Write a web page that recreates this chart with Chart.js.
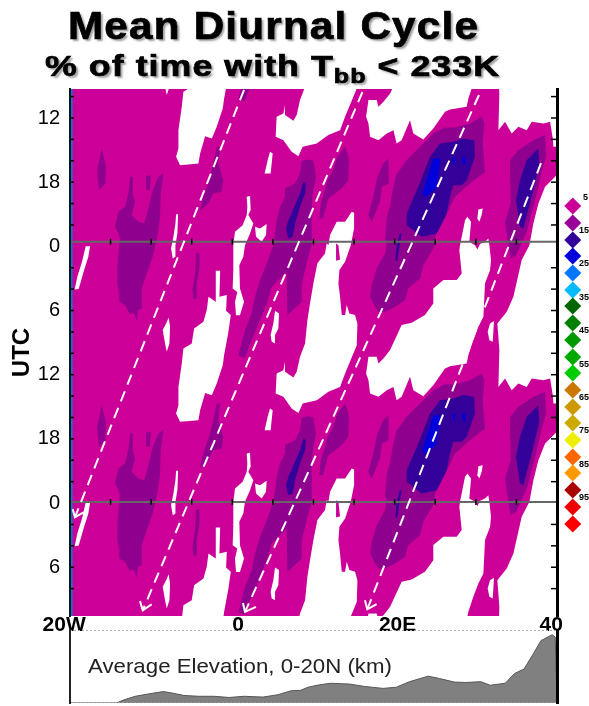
<!DOCTYPE html>
<html>
<head>
<meta charset="utf-8">
<title>Mean Diurnal Cycle</title>
<script src="https://cdn.jsdelivr.net/npm/chart.js@4/dist/chart.umd.min.js"></script>
<style>
  html, body { margin: 0; padding: 0; background: #fff; }
  #page { position: relative; width: 589px; height: 706px; overflow: hidden; font-family: "Liberation Sans", Arial, sans-serif; }
  canvas { position: absolute; left: 0; }
  #hovmoller { top: 0; }
  #elevation { top: 626px; }
  .head { position: absolute; font-weight: bold; color: #000; white-space: nowrap; transform-origin: left top; -webkit-text-stroke: 0.7px #000; text-shadow: 2px 2px 2px #999; }
  #head1 { left: 68px; top: 5px; font-size: 38px; letter-spacing: 1.1px; transform: scaleX(1.11); }
  #head2 { left: 45px; top: 49px; font-size: 30px; letter-spacing: 0.9px; transform: scaleX(1.19); }
  #head2 sub { font-size: 21px; line-height: 0; vertical-align: -7px; }
  #elevLabel { position: absolute; left: 88px; top: 654px; font-size: 21px; color: #222; white-space: nowrap; transform-origin: left top; transform: scaleX(1.06); }
  .diamond { position: absolute; width: 11.5px; height: 11.5px; transform: rotate(45deg); }
  .lvl { position: absolute; font: bold 9px "Liberation Sans", Arial, sans-serif; color: #000; }
</style>
</head>
<body>
<div id="page">
  <canvas id="hovmoller" width="589" height="640"></canvas>
  <canvas id="elevation" width="589" height="80"></canvas>
  <div class="head" id="head1">Mean Diurnal Cycle</div>
  <div class="head" id="head2">% of time with T<sub>bb</sub> &lt; 233K</div>
  <div id="elevLabel">Average Elevation, 0-20N (km)</div>
</div>
<script>
// ---- axes: hours counted from the first 00 UTC line ----
const lonTicks = [-20, 0, 20, 40];
// nbsp padding nudges the labels off their ticks the way the original sits
const lonLabels = ["20W\u00a0\u00a0", "\u00a0\u00a00", "\u00a020E", "40\u00a0\u00a0"];
const hourTicks = [-12, -6, 0, 6, 12, 18, 24, 30];
const hourLabels = ["12", "18", "0", "6", "12", "18", "0", "6"];
const minorHours = [-14, -12, -10, -8, -6, -4, -2, 2, 4, 6, 8, 10, 12, 14, 16, 18, 20, 22, 26, 28, 30, 32];
const minorLons = [-15, -10, -5, 0, 5, 10, 15, 20, 25, 30, 35];
const zeroLines = [-0.43, 23.9];
const cycleShifts = [-48, -24, 0, 24];   // the mean day is plotted twice

// ---- contour outlines as [lon, hour] ----
const noCloud = [
  [[-18.07,23.98],[-17.53,23.98],[-17.74,24.98],[-18.27,26.23],[-18.93,27.98],[-19.42,28.04],[-19.1,26.85],[-18.52,25.45]],
  [[-6.93,20.99],[-6.68,20.99],[-6.77,22.8],[-7.01,23.89],[-7.01,24.98],[-7.34,25.14],[-7.55,24.2],[-7.26,23.1],[-7.01,21.86]],
  [[-7.84,6.65],[-7.67,7.52],[-7.75,9.08],[-8.08,9.86],[-8.29,9.08],[-8.58,7.83],[-8.16,7.21]],
  [[-2.04,2.28],[-1.5,2.28],[-1.59,4.71],[-0.68,4.56],[-0.77,6.02],[-0.19,6.43],[-0.48,7.99],[-1.01,10.17],[-1.18,11.11],[-1.92,12.82],[-2.53,13.92],[-3.35,13.7],[-3.97,15.32],[-4.18,16.26],[-6.44,16.41],[-6.93,15.63],[-6.64,14.85],[-6.64,13.14],[-6.23,10.95],[-6.03,9.55],[-5,9.08],[-4.71,7.68],[-3.56,7.05],[-3.15,5.96],[-2.94,4.71],[-2.04,5.18]],
  [[1.77,19.36],[2.18,19.3],[2.26,20.61],[1.97,21.08],[2.59,21.86],[2.18,22.8],[1.56,23.89],[1.35,24.98],[0.86,25.76],[0.94,27.94],[1.44,29.19],[0.94,30.44],[0.45,30.44],[0.33,29.19],[0.61,28.26],[0.04,27.94],[0.12,26.23],[0.12,23.89],[0.33,22.64],[1.27,22.02],[1.77,21.08],[1.85,20.3]],
  [[2.79,22.17],[3.41,22.33],[4.23,21.92],[4.15,22.95],[3.61,23.58],[2.92,23.11]],
  [[5.26,6.02],[5.75,6.27],[5.67,7.68],[5.26,8.3],[5.26,9.08],[4.85,8.92],[4.72,8.3],[5.05,7.21]],
  [[4.64,15.16],[4.97,15.32],[4.72,17.19],[3.98,17.19],[4.35,15.94]],
  [[11.84,23.89],[12.04,22.95],[12.86,21.7],[13.89,21.7],[14.71,20.77],[15,20.86],[15,22.33],[14.59,23.89],[13.89,25.44],[13.19,26.22],[13.07,27.46],[13.27,28.71],[13.48,30.43],[13.89,30.43],[14.1,29.49],[14.42,30.27],[15.12,30.43],[15.41,31.21],[15.33,33.24],[13.89,35.89],[13.27,37.14],[11.83,37.6],[10.4,38.38],[8.67,38.7],[8.14,39.57],[7.31,39.16],[6.29,38.07],[5.34,37.76],[5.46,35.89],[6.29,35.58],[6.49,34.8],[6.49,35.73],[7.52,36.26],[7.93,35.73],[8.34,34.33],[8.96,33.08],[9.25,30.9],[9.57,29.34],[9.99,27.46],[10.48,25.59],[11.42,24.66],[11.63,23.72]],
  [[28.05,23.89],[28.67,21.55],[28.96,21.24],[29.41,21.7],[29.2,23.58],[29.9,23.89],[30.19,24.29],[30.52,23.79],[31.13,23.58],[31.54,23.26],[31.67,23.89],[31.87,25.29],[31.75,26.23],[31.13,27.46],[30.93,30.58],[30.31,31.52],[29.69,32.77],[29.08,34.17],[28.87,34.95],[26.82,35.2],[26.2,35.42],[24.76,36.98],[23.53,38.01],[22.3,37.45],[21.89,36.2],[20.86,38.07],[20.24,38.38],[19.85,37.14],[19.03,37.45],[18,38.07],[16.97,37.76],[16.77,36.51],[16.48,35.89],[16.77,34.33],[17.79,34.33],[18,34.95],[18.62,34.48],[19.44,33.7],[20.86,31.36],[22.09,31.14],[23.73,30.43],[24.76,29.34],[24.76,27.93],[26,27.15],[27.64,27.15],[28.26,26.53],[27.97,24.34]],
  [[40.17,17.18],[39.56,17.65],[38.53,18.43],[37.71,19.99],[37.09,21.86],[36.6,23.89],[35.65,25.28],[34.63,28.71],[33.81,30.12],[32.65,31.21],[32.78,32.46],[32.9,33.7],[32.78,37.14],[33.6,36.36],[34.42,37.45],[35.24,36.82],[36.27,37.14],[36.89,36.36],[38.33,36.51],[39.15,36.36],[39.48,37.92],[39.56,38.7],[40.17,38.7]],
  [[31.75,31.21],[32.24,30.99],[32.08,32.92],[31.67,32.77],[31.46,31.99]],
  [[30.31,20.55],[30.85,20.46],[30.72,21.08],[30.43,21.7],[30.19,21.39]]
];
const cloudInGaps = [
  [[12.78,23.73],[13.07,23.89],[13.27,25.23],[12.78,25.35]]
];
const level10 = [
  [[-8.49,17.18],[-8.82,19.05],[-8.9,21.24],[-9.23,23.11],[-9.81,24.98],[-10.55,26.54],[-11.16,27.94],[-11.16,29.82],[-11.66,29.97],[-11.78,31.06],[-12.07,30.28],[-12.68,30.28],[-13.22,29.5],[-13.92,29.19],[-13.92,28.47],[-14.16,27.48],[-14.16,26.07],[-14,24.36],[-13.84,23.26],[-14.12,22.64],[-14.45,22.17],[-14.04,20.77],[-13.22,20.3],[-12.81,19.05],[-12.6,17.49],[-12.27,17.49],[-12.27,19.05],[-11.99,19.83],[-12.4,21.08],[-11.57,21.7],[-10.88,21.86],[-10.55,21.08],[-10.14,19.83],[-9.81,18.74],[-9.11,17.49]],
  [[-10.63,17.43],[-10.05,17.34],[-10.14,18.74],[-10.63,18.74]],
  [[-4.46,0.59],[-4.05,0.66],[-4.05,1.9],[-4.38,3.46],[-4.38,4.87],[-4.79,4.96],[-4.92,4.09],[-4.59,2.53]],
  [[-16.1,14.85],[-15.56,16.55],[-15.65,18.12],[-16.43,18.75],[-16.67,16.88]],
  [[-1.93,14.69],[-1.52,14.69],[-1.73,16.25],[-1.11,17.81],[-1.32,18.9],[-2.34,19.06],[-2.96,19.99],[-3.98,20.67],[-3.58,19.36],[-2.75,17.5],[-2.34,16.25]],
  [[9.37,15.88],[9.99,16],[10.31,17.49],[9.9,19.05],[9.78,20.3],[9.78,23.89],[9.57,24.36],[8.55,27.48],[8.55,29.19],[6.78,30.44],[6.7,26.38],[4.85,27.79],[4.23,29.35],[3.41,30.91],[2.18,33.09],[1.56,34.43],[0.74,34.18],[1.56,31.84],[2.38,30.28],[2.79,28.72],[3.41,27.16],[4.23,25.6],[5.05,23.89],[5.46,21.55],[5.88,20.3],[6.49,19.36],[6.49,18.58],[7.72,18.12],[8.14,17.49],[8.34,17.19],[8.55,16]],
  [[13.89,14.69],[14.42,15.94],[14.3,17.19],[14.3,17.8],[13.48,18.58],[12.45,19.21],[11.83,19.52],[11.14,21.39],[10.72,21.39],[10.89,19.99],[11.42,18.74],[11.71,17.8],[12.25,17.19],[12.94,15.63]],
  [[19.22,15.78],[19.27,18.12],[18.44,18.43],[18.19,19.83],[17.17,21.7],[16.75,21.08],[17.37,19.36],[17.87,17.49],[18.6,16.25]],
  [[30.72,11.89],[31.05,12.51],[30.85,14.38],[31.13,17.04],[29.28,18.12],[27.43,19.36],[26.82,20.3],[26.2,21.39],[24.97,23.11],[24.97,23.89],[23.53,25.76],[23.12,27.01],[21.68,27.94],[21.27,29.04],[20.04,29.66],[18.82,30.12],[18,30.12],[17.59,29.65],[16.97,28.71],[17.18,27.62],[17.79,26.06],[18.82,24.66],[19.03,23.56],[18.82,23.42],[19.03,21.24],[19.42,20.3],[19.75,18.74],[20.24,17.18],[20.45,17.04],[21.47,15.94],[23.12,14.7],[24.76,13.45],[26.2,12.89],[27.43,12.89],[29.28,12.51]],
  [[38.53,13.6],[38.65,15.63],[38.12,17.04],[37.71,18.43],[37.09,20.3],[36.35,22.48],[35.65,23.73],[34.96,24.82],[34.3,25.14],[34.01,23.89],[33.6,21.7],[34.3,19.99],[34.22,17.18],[34.22,15.94],[35.24,15],[37.09,14.07]]
];
const level15 = [
  [[8.75,17.96],[9.08,18.12],[8.96,19.05],[8.34,20.3],[7.72,21.86],[7.44,23.11],[6.9,23.26],[6.61,22.33],[6.9,21.55],[7.72,20.14],[8.34,19.05]],
  [[28.45,13.91],[29.81,14.07],[29.9,15.62],[28.87,17.81],[28.26,18.28],[27.22,18.28],[26.81,19.36],[26.41,20.93],[25.17,22.8],[23.33,23.11],[21.48,22.02],[21.48,20.93],[22.91,18.43],[24.35,15.62],[25.58,14.38],[27.22,14.22]],
  [[37.69,14.85],[37.82,16.41],[36.88,19.36],[35.85,22.33],[35.44,22.17],[34.95,19.68],[35.44,17.81],[36.26,15.94]],
  [[20.86,22.8],[20.32,25.35],[20.08,25.35],[20.24,23.89],[20.65,22.8]]
];
const level25 = [
  [[24.76,15.78],[25.67,15.78],[25.38,17.34],[25.09,18.59],[23.74,19.43],[23.4,19.06],[23.94,17.81]],
  [[27.22,15.62],[27.5,15.62],[27.4,16.25],[27.15,16.25]],
  [[28.33,15.7],[28.69,15.6],[28.73,16.4],[28.37,16.25]]
];

// ---- dashed tracks with their arrow heads ----
const tracks = [
  [[1.44,-14.62],[-19.38,25.32]],
  [[16.03,-14.43],[-11.04,34.03]],
  [[30.39,-14.15],[1.56,34.18]],
  [[38.03,-7.79],[16.63,33.93]]
];
const arrowHeads = [
  [[-19.67,24.57],[-19.38,25.32],[-18.28,24.85]],
  [[-11.38,33.15],[-11.04,34.03],[-9.93,33.46]],
  [[1.31,33.34],[1.56,34.18],[2.91,33.71]],
  [[16.34,33.09],[16.63,33.93],[17.78,33.46]]
];

// ---- elevation along 0-20N (km) ----
const elevLons = [-20,-14.27,-13.35,-11.96,-10.34,-8.49,-7.33,-5.95,-4.09,-2.24,-0.39,1.46,3.77,5.62,7.24,8.4,9.33,10.71,12.1,14.42,16.27,18.58,20.2,21.82,24.13,25.52,27.37,28.76,30.61,31.77,33.62,34.78,35.94,37.09,38.02,39.41,39.78,40];
const elevKm = [0,0,0.08,0.17,0.23,0.29,0.25,0.19,0.17,0.17,0.14,0.17,0.15,0.21,0.31,0.32,0.4,0.46,0.5,0.48,0.42,0.37,0.4,0.54,0.68,0.62,0.53,0.52,0.54,0.45,0.5,0.75,0.86,1.25,1.58,1.73,1.67,0];

// ---- colour key ----
const keyColors = ["#cc0099","#990099","#330099","#0000dd","#0077ff","#00bbff","#006600","#008000","#009900","#00aa00","#00cc00","#cc7700","#cc9900","#ccaa00","#eeee00","#ff6600","#ff9900","#aa0000","#ee0000","#ff0000"];
const keyLabels = ["5","15","25","35","45","55","65","75","85","95"];

const CLOUD5 = "#cc0099", CLOUD10 = "#8f008f", CLOUD15 = "#330099", CLOUD25 = "#0000dd";

function toPoints(pairs, shift) {
  return pairs.map((p) => ({ x: p[0], y: p[1] + (shift || 0) }));
}

// closed outlines go on first, one copy per plotted day
const outlines = [];
function addOutlines(list, color) {
  list.forEach((pairs) => {
    cycleShifts.forEach((shift) => {
      outlines.push({ data: toPoints(pairs, shift), showLine: false, pointRadius: 0, contourFill: color });
    });
  });
}
addOutlines(noCloud, "#ffffff");
addOutlines(cloudInGaps, CLOUD5);
addOutlines(level10, CLOUD10);
addOutlines(level15, CLOUD15);
addOutlines(level25, CLOUD25);

const trackSets = tracks.map((t) => ({
  data: toPoints(t), showLine: true, borderColor: "#fff", borderWidth: 2, borderDash: [11, 7], pointRadius: 0
}));
const arrowSets = arrowHeads.map((a) => ({
  data: toPoints(a), showLine: true, borderColor: "#fff", borderWidth: 2, pointRadius: 0
}));
const zeroSets = zeroLines.map((h) => ({
  data: [{ x: -20, y: h }, { x: 40, y: h }], showLine: true, borderColor: "#666", borderWidth: 2, pointRadius: 0
}));
const tickSet = (xs, ys, radius, rotation) => ({
  data: xs.flatMap((x) => ys.map((y) => ({ x: x, y: y }))),
  showLine: false, pointStyle: "line", pointRadius: radius, pointRotation: rotation,
  pointBorderColor: "#000", pointBorderWidth: 1.5
});

// fills the 5% base and the closed contours through the chart's own scales
const contourPlugin = {
  id: "contours",
  beforeDatasetsDraw(chart) {
    const { ctx, chartArea: a } = chart;
    ctx.save();
    ctx.beginPath();
    ctx.rect(a.left, a.top, a.width, a.height);
    ctx.clip();
    ctx.fillStyle = CLOUD5;
    ctx.fillRect(a.left, a.top, a.width, a.height);
    chart.data.datasets.forEach((ds, i) => {
      if (!ds.contourFill) return;
      const pts = chart.getDatasetMeta(i).data;
      ctx.beginPath();
      pts.forEach((p, k) => (k ? ctx.lineTo(p.x, p.y) : ctx.moveTo(p.x, p.y)));
      ctx.closePath();
      ctx.fillStyle = ds.contourFill;
      ctx.fill();
    });
    ctx.restore();
  }
};

new Chart(document.getElementById("hovmoller"), {
  type: "scatter",
  data: {
    datasets: [
      ...arrowSets,
      ...trackSets,
      tickSet(minorLons, zeroLines, 3, 90),
      ...zeroSets,
      tickSet([-20], minorHours, 4, 0),
      tickSet([40], minorHours, 6, 0),
      { data: [{ x: -19.8, y: -14.7 }, { x: -19.8, y: 34.56 }], showLine: true, borderColor: "#0078d8", borderWidth: 2, pointRadius: 0 },
      ...outlines
    ]
  },
  options: {
    responsive: false,
    animation: false,
    devicePixelRatio: 1,
    layout: { padding: { left: 0, right: 32, top: 89, bottom: 0 } },
    plugins: { legend: { display: false }, tooltip: { enabled: false } },
    scales: {
      x: {
        type: "linear", min: -20, max: 40,
        grid: { display: false, drawTicks: false },
        border: { display: false },
        afterBuildTicks: (s) => { s.ticks = lonTicks.map((v) => ({ value: v })); },
        afterFit: (s) => { s.height = 24; },
        ticks: {
          autoSkip: false, maxRotation: 0, padding: -3, color: "#000",
          font: { family: "Liberation Sans", size: 21, weight: "bold" },
          callback: (v) => lonLabels[lonTicks.indexOf(v)]
        }
      },
      y: {
        type: "linear", reverse: true, min: -14.71, max: 34.56,
        grid: { display: false, drawTicks: false },
        border: { display: true, color: "#111", width: 2, z: 1 },
        afterBuildTicks: (s) => { s.ticks = hourTicks.map((v) => ({ value: v })); },
        afterFit: (s) => { s.width = 70; },
        title: {
          display: true, text: "UTC", color: "#000", padding: { top: 8, bottom: 0 },
          font: { family: "Liberation Sans", size: 24, weight: "bold" }
        },
        ticks: {
          autoSkip: false, padding: 10, color: "#000",
          font: { family: "Liberation Sans", size: 20 },
          callback: (v) => hourLabels[hourTicks.indexOf(v)]
        }
      },
      yRight: {
        type: "linear", position: "right", min: -14.71, max: 34.56,
        grid: { display: false, drawTicks: false },
        border: { display: true, color: "#000", width: 3, z: 1 },
        ticks: { display: false },
        afterFit: (s) => { s.width = 0; }
      }
    }
  },
  plugins: [contourPlugin]
});

// ---- elevation strip underneath ----
const elevPairs = elevLons.map((x, i) => ({ x: x, y: elevKm[i] }));
new Chart(document.getElementById("elevation"), {
  type: "scatter",
  data: {
    datasets: [
      { data: [{ x: -20, y: 1.85 }, { x: 40, y: 1.85 }], showLine: true, borderColor: "#aaa", borderWidth: 2, borderDash: [2, 2], pointRadius: 0 },
      { data: [{ x: -20, y: 0 }, { x: 40, y: 0 }], showLine: true, borderColor: "#999", borderWidth: 2, borderDash: [2, 2], pointRadius: 0 },
      { data: elevPairs, showLine: true, fill: "origin", borderColor: "#555", borderWidth: 1, backgroundColor: "#808080", pointRadius: 0 }
    ]
  },
  options: {
    responsive: false,
    animation: false,
    devicePixelRatio: 1,
    layout: { padding: { left: 0, right: 32, top: 4, bottom: 0 } },
    plugins: { legend: { display: false }, tooltip: { enabled: false } },
    scales: {
      x: {
        type: "linear", min: -20, max: 40,
        grid: { display: false, drawTicks: false }, border: { display: false },
        ticks: { display: false },
        afterFit: (s) => { s.height = 3; }
      },
      y: {
        type: "linear", min: 0, max: 1.85,
        grid: { display: false, drawTicks: false },
        border: { display: true, color: "#222", width: 2, z: 1 },
        ticks: { display: false },
        afterFit: (s) => { s.width = 70; }
      },
      yRight: {
        type: "linear", position: "right", min: 0, max: 1.85,
        grid: { display: false, drawTicks: false },
        border: { display: true, color: "#000", width: 3, z: 1 },
        ticks: { display: false },
        afterFit: (s) => { s.width = 0; }
      }
    }
  }
});

// ---- colour key, right of the plot ----
const page = document.getElementById("page");
keyColors.forEach((c, i) => {
  const d = document.createElement("div");
  d.className = "diamond";
  d.style.left = "566.5px";
  d.style.top = (200.2 + i * 16.7) + "px";
  d.style.background = c;
  page.appendChild(d);
});
keyLabels.forEach((t, i) => {
  const s = document.createElement("span");
  s.className = "lvl";
  s.textContent = t;
  s.style.left = (i ? 579 : 583) + "px";
  s.style.top = (i ? 225 + (i - 1) * 33.4 : 192) + "px";
  page.appendChild(s);
});
</script>
</body>
</html>
